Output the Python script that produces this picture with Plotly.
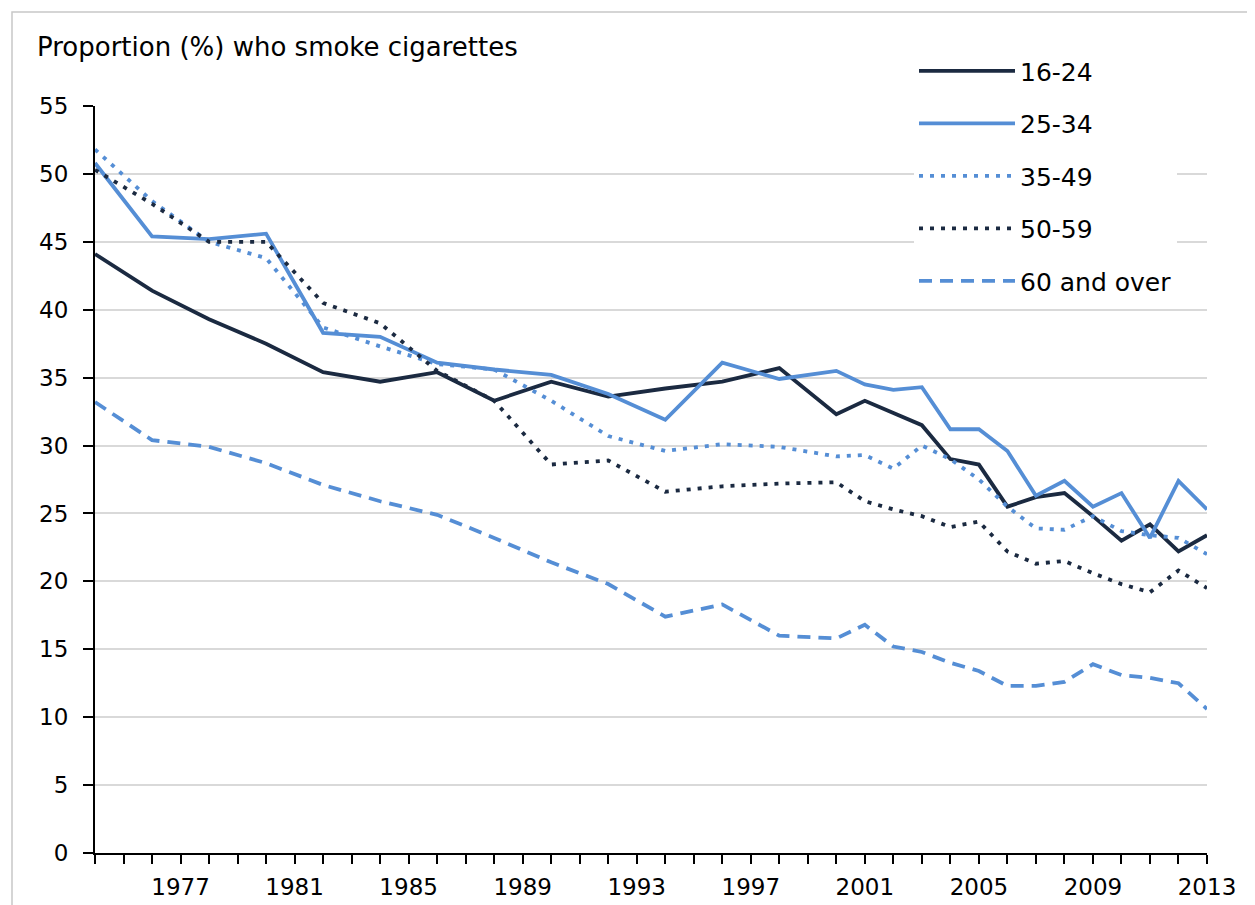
import plotly.graph_objects as go

# Survey years (biennial to 2000, annual afterwards)
years = [1974, 1976, 1978, 1980, 1982, 1984, 1986, 1988, 1990, 1992, 1994, 1996, 1998, 2000,
         2001, 2002, 2003, 2004, 2005, 2006, 2007, 2008, 2009, 2010, 2011, 2012, 2013]

age_16_24 = [44.1, 41.4, 39.3, 37.5, 35.4, 34.7, 35.4, 33.3, 34.7, 33.6, 34.2, 34.7, 35.7, 32.3,
             33.3, 32.4, 31.5, 29.0, 28.6, 25.5, 26.2, 26.5, 24.8, 23.0, 24.2, 22.2, 23.4]
age_25_34 = [50.8, 45.4, 45.2, 45.6, 38.3, 38.0, 36.1, 35.6, 35.2, 33.8, 31.9, 36.1, 34.9, 35.5,
             34.5, 34.1, 34.3, 31.2, 31.2, 29.6, 26.3, 27.4, 25.5, 26.5, 23.2, 27.4, 25.3]
age_35_49 = [51.8, 48.0, 45.0, 43.8, 38.7, 37.3, 36.0, 35.6, 33.3, 30.7, 29.6, 30.1, 29.9, 29.2,
             29.3, 28.3, 30.0, 29.0, 27.5, 25.5, 23.9, 23.8, 24.8, 23.7, 23.4, 23.2, 22.0]
age_50_59 = [50.3, 47.8, 45.0, 45.0, 40.5, 39.0, 35.5, 33.3, 28.6, 28.9, 26.6, 27.0, 27.2, 27.3,
             25.9, 25.3, 24.8, 24.0, 24.4, 22.2, 21.3, 21.5, 20.6, 19.8, 19.2, 20.8, 19.5]
age_60_over = [33.2, 30.4, 29.9, 28.7, 27.1, 25.9, 24.9, 23.2, 21.4, 19.8, 17.4, 18.3, 16.0, 15.8,
               16.8, 15.2, 14.8, 14.0, 13.4, 12.3, 12.3, 12.6, 13.9, 13.1, 12.9, 12.5, 10.6]

series_names = ["16-24", "25-34", "35-49", "50-59", "60 and over"]
label_years = [1977, 1981, 1985, 1989, 1993, 1997, 2001, 2005, 2009, 2013]

DARK = "#1B2A41"
LIGHT = "#558ED5"
FONT = "DejaVu Sans"

styles = [
    dict(color=DARK, width=3.8, dash="solid"),
    dict(color=LIGHT, width=3.8, dash="solid"),
    dict(color=LIGHT, width=3.8, dash="4px,7px"),
    dict(color=DARK, width=3.8, dash="4px,7px"),
    dict(color=LIGHT, width=3.8, dash="13px,8px"),
]
values = [age_16_24, age_25_34, age_35_49, age_50_59, age_60_over]

fig = go.Figure()
for name, vals, st in zip(series_names, values, styles):
    fig.add_trace(go.Scatter(x=years, y=vals, mode="lines", name=name,
                             legendgroup=name, line=st))

# The page body adds an 8px offset, so the figure is 8px smaller and all
# reference pixel positions are shifted by OFF.
OFF = 8
W, H = 1255 - OFF, 905 - OFF
L, T = 95 - OFF, 106 - OFF
R = W - (1207 - OFF)
B = H - (853.5 - OFF)
pw, ph = W - L - R, H - T - B

def px_x(p):
    return (p - OFF - L) / pw

def px_y(p):
    return (H - B - (p - OFF)) / ph

fig.update_layout(
    width=W, height=H,
    margin=dict(l=L, r=R, t=T, b=B, autoexpand=False),
    paper_bgcolor="white", plot_bgcolor="white",
    font=dict(family=FONT, color="black", size=23),
    title=dict(text="Proportion (%) who smoke cigarettes", xref="container", yref="container",
               x=(37 - OFF) / W, y=1 - (47 - OFF) / H, xanchor="left", yanchor="middle",
               font=dict(family=FONT, size=26, color="black")),
    legend=dict(x=px_x(914), y=px_y(48), xanchor="left", yanchor="top",
                bgcolor="white", borderwidth=0,
                font=dict(family=FONT, size=25, color="black"),
                itemwidth=96, tracegroupgap=17, traceorder="grouped"),
    shapes=[dict(type="rect", xref="paper", yref="paper",
                 x0=px_x(12), x1=px_x(1270), y0=px_y(930), y1=px_y(12),
                 line=dict(color="#C8C8C8", width=1.5), fillcolor="rgba(0,0,0,0)",
                 layer="below")],
)

fig.update_xaxes(
    range=[1974, 2013], tickmode="array", tickvals=label_years,
    ticktext=[str(y) for y in label_years], automargin=False,
    ticks="outside", ticklen=9, tickwidth=1.5, tickcolor="black",
    showline=True, linecolor="black", linewidth=2, showgrid=False, zeroline=False,
    tickfont=dict(family=FONT, size=23, color="black"), ticklabelstandoff=3,
    minor=dict(tick0=1974, dtick=1, ticks="outside", ticklen=9, tickwidth=1.5,
               tickcolor="black", showgrid=False),
)
fig.update_yaxes(
    range=[0, 55], tick0=0, dtick=5, automargin=False,
    ticks="outside", ticklen=10, tickwidth=1.5, tickcolor="black",
    showline=True, linecolor="black", linewidth=2,
    showgrid=True, gridcolor="#D9D9D9", gridwidth=1.5, zeroline=False,
    tickfont=dict(family=FONT, size=23, color="black"), ticklabelstandoff=10,
)

fig.write_html("out.html")
